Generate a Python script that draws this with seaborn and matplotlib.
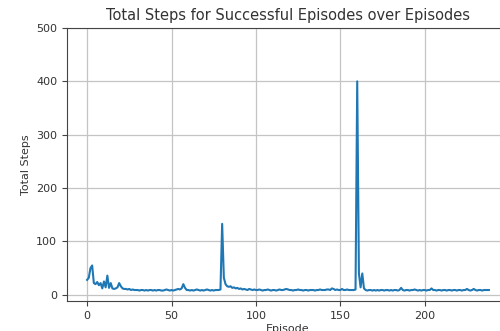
import numpy as np
import pandas as pd
import matplotlib
matplotlib.use('Agg')
import matplotlib.pyplot as plt
import seaborn as sns

# total steps per successful episode
steps = [
    28, 32, 50, 55, 22, 20, 24, 18, 22, 12,   # 0-9
    25, 14, 36, 13, 22, 12, 11, 12, 14, 22,   # 10-19
    16, 12, 11, 11, 10, 11, 9, 10, 9, 9,      # 20-29
    9, 8, 9, 9, 8, 9, 8, 9, 9, 8,             # 30-39
    9, 8, 9, 9, 8, 8, 9, 10, 9, 8,            # 40-49
    9, 8, 9, 10, 11, 10, 12, 20, 13, 9,       # 50-59
    9, 8, 9, 8, 9, 10, 9, 8, 9, 8,            # 60-69
    9, 10, 9, 8, 9, 8, 9, 9, 9, 10,           # 70-79
    133, 32, 20, 16, 15, 16, 13, 14, 12, 13,  # 80-89
    11, 12, 10, 11, 10, 9, 11, 10, 9, 10,     # 90-99
    9, 9, 10, 9, 8, 9, 9, 10, 9, 8,           # 100-109
    9, 9, 8, 9, 10, 9, 9, 10, 11, 10,         # 110-119
    9, 9, 8, 9, 9, 10, 9, 9, 8, 9,            # 120-129
    9, 8, 9, 9, 9, 8, 9, 9, 10, 9,            # 130-139
    9, 9, 10, 10, 9, 12, 11, 9, 10, 9,        # 140-149
    9, 11, 9, 9, 10, 9, 9, 9, 9, 10,          # 150-159
    400, 40, 14, 40, 12, 9, 8, 9, 9, 8,       # 160-169
    9, 8, 9, 8, 9, 9, 8, 9, 9, 8,             # 170-179
    9, 8, 9, 9, 8, 9, 13, 9, 8, 9,            # 180-189
    9, 8, 9, 9, 10, 9, 8, 9, 8, 9,            # 190-199
    9, 8, 9, 9, 12, 9, 9, 8, 9, 9,            # 200-209
    8, 9, 9, 8, 9, 9, 8, 9, 9, 8,             # 210-219
    9, 9, 8, 9, 9, 11, 9, 8, 9, 11,           # 220-229
    9, 8, 9, 9, 8, 9, 9, 9, 9,                # 230-238
]
episodes = np.arange(len(steps))
df = pd.DataFrame({'Episode': episodes, 'Total Steps': steps})

text_col = '#333333'
fig = plt.figure(figsize=(5, 3.31), dpi=100)
# axes run past the right edge, as in the cropped reference
ax = fig.add_axes([0.134, 0.0906, 0.884, 0.8248])
sns.lineplot(data=df, x='Episode', y='Total Steps', ax=ax, color='#1f77b4', linewidth=1.5)
ax.set_ylim(top=500)
ax.grid(True, color='#c4c4c4', linewidth=0.9)
for s in ax.spines.values():
    s.set_color('#444444')
ax.set_title('Total Steps for Successful Episodes over Episodes', fontsize=10.5, color=text_col)
ax.set_xlabel('Episode', fontsize=8, color=text_col, labelpad=2)
ax.set_ylabel('Total Steps', fontsize=8, color=text_col)
ax.tick_params(labelsize=8, labelcolor=text_col, color='#444444')

fig.savefig('out.png', dpi=100)
